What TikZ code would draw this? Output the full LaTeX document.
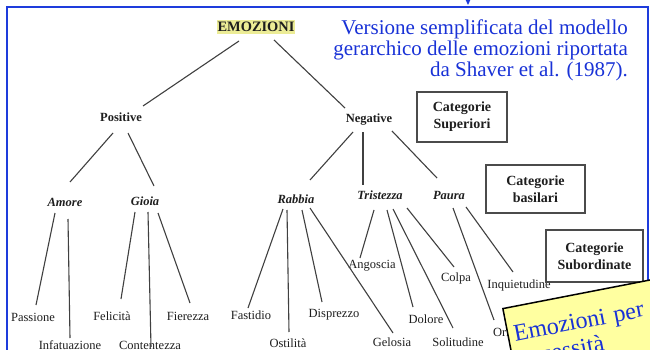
\documentclass[tikz,border=0pt]{standalone}
\usepackage{fontspec}
\setmainfont{Liberation Serif}
\usetikzlibrary{calc}
\definecolor{bordblue}{RGB}{30,60,220}
\definecolor{txtblue}{RGB}{25,50,215}
\definecolor{hl}{RGB}{236,236,150}
\definecolor{notefill}{RGB}{255,255,160}
\definecolor{ink}{RGB}{30,30,30}
\newcommand{\lk}[6]{\draw[tl] ($(#1)+(#2,#3)$) -- ($(#4)+(#5,#6)$);}
\begin{document}
\begin{tikzpicture}[x=1pt,y=-1pt,
  tl/.style={draw=ink!85, line width=1.1pt},
  leaf/.style={text=ink, font=\fontsize{12.5}{14}\selectfont, inner sep=0pt},
  cat/.style={text=ink, font=\fontsize{12.5}{14}\selectfont\bfseries\itshape, inner sep=0pt},
  top/.style={text=ink, font=\fontsize{12.5}{14}\selectfont\bfseries, inner sep=0pt},
  legbox/.style={draw=ink!80, line width=1.2pt, align=center, text=ink,
    font=\fontsize{14}{17}\selectfont\bfseries, inner sep=0pt},
  bluetxt/.style={text=txtblue, font=\fontsize{21}{21.5}\selectfont, align=right, inner sep=0pt},
  notebox/.style={draw=black, line width=1.5pt, fill=notefill, text=txtblue,
    font=\fontsize{24}{26}\selectfont, align=left, inner xsep=6pt, inner ysep=11pt,
    text width=190pt, minimum height=80pt}
]
\useasboundingbox (0,0) rectangle (650,350);
\clip (0,0) rectangle (650,350);
\fill[white] (0,0) rectangle (650,350);

% frame and top arrow
\draw[bordblue, line width=2pt] (7,7) rectangle (648,380);
\fill[bordblue] (465.5,-0.5) -- (470.5,-0.5) -- (468,5) -- cycle;

% caption
\node[bluetxt, anchor=base east] (cap1) at (628,35) {Versione semplificata del modello};
\node[bluetxt, anchor=base east] (cap2) at (628,56) {gerarchico delle emozioni riportata};
\node[bluetxt, anchor=base east] (cap3) at (628,77) {da Shaver et al. (1987).};

% nodes
\node[top, fill=hl, font=\fontsize{14.4}{16}\selectfont\bfseries, inner xsep=1pt, inner ysep=2.3pt,
      text height=9.5pt, text depth=0pt] (emo) at (256,27) {EMOZIONI};
\node[top] (pos) at (121,117) {Positive};
\node[top] (neg) at (369,120) {Negative};
\node[cat] (amore) at (65,202) {Amore};
\node[cat] (gioia) at (145,201) {Gioia};
\node[cat] (rabbia) at (296,199) {Rabbia};
\node[cat] (trist) at (380,195) {Tristezza};
\node[cat] (paura) at (449,195) {Paura};
\node[leaf] (passione) at (33,317) {Passione};
\node[leaf] (infat) at (70,345) {Infatuazione};
\node[leaf] (felic) at (112,316) {Felicità};
\node[leaf] (content) at (150,345) {Contentezza};
\node[leaf] (fierez) at (188,316) {Fierezza};
\node[leaf] (fastid) at (251,315) {Fastidio};
\node[leaf] (ostil) at (288,343) {Ostilità};
\node[leaf] (dispr) at (334,315) {Disprezzo};
\node[leaf] (angos) at (372,266) {Angoscia};
\node[leaf] (colpa) at (456,278) {Colpa};
\node[leaf] (inquiet) at (519,285) {Inquietudine};
\node[leaf] (dolore) at (426,319) {Dolore};
\node[leaf] (gelosia) at (392,342) {Gelosia};
\node[leaf] (solit) at (458,342) {Solitudine};
\node[leaf, anchor=west] (orrore) at (493,332) {Orrore};

% legend boxes
\node[legbox, minimum width=90pt, minimum height=50pt] (bsup) at (462,117) {Categorie\\Superiori};
\node[legbox, minimum width=99pt, minimum height=48pt] (bbas) at (535.5,189) {Categorie\\basilari};
\node[legbox, minimum width=97pt, minimum height=52pt] (bsub) at (594.5,256) {Categorie\\Subordinate};

% connectors
\lk{emo}{-17}{14}{pos}{22}{-11}
\lk{emo}{18}{13}{neg}{-24}{-12}
\lk{pos}{-8}{16}{amore}{5}{-20}
\lk{pos}{7}{16}{gioia}{9}{-15}
\lk{neg}{-16}{12}{rabbia}{14}{-19}
\lk{neg}{-6}{12}{trist}{-17}{-10}
\lk{neg}{23}{11}{paura}{-12}{-17}
\lk{amore}{-10}{11}{passione}{3}{-12}
\lk{amore}{3}{17}{infat}{0}{-7}
\lk{gioia}{-10}{11}{felic}{9}{-17}
\lk{gioia}{3}{11}{content}{1}{2}
\lk{gioia}{13}{12}{fierez}{2}{-13}
\lk{rabbia}{-13}{10}{fastid}{-3}{-7}
\lk{rabbia}{-9}{11}{ostil}{1}{-11}
\lk{rabbia}{6}{11}{dispr}{-12}{-13}
\lk{rabbia}{14}{9}{gelosia}{1}{-9}
\lk{trist}{-6}{15}{angos}{-12}{-8}
\lk{trist}{7}{15}{dolore}{-13}{-12}
\lk{trist}{13}{14}{solit}{-5}{-14}
\lk{trist}{27}{13}{colpa}{-2}{-11}
\lk{paura}{4}{13}{orrore.west}{1}{-12}
\lk{paura}{17}{12}{inquiet}{-6}{-13}

% rotated note
\node[notebox, rotate=11, anchor=north west] (note) at (502,308) {Emozioni per\\necessità};
\end{tikzpicture}
\end{document}
